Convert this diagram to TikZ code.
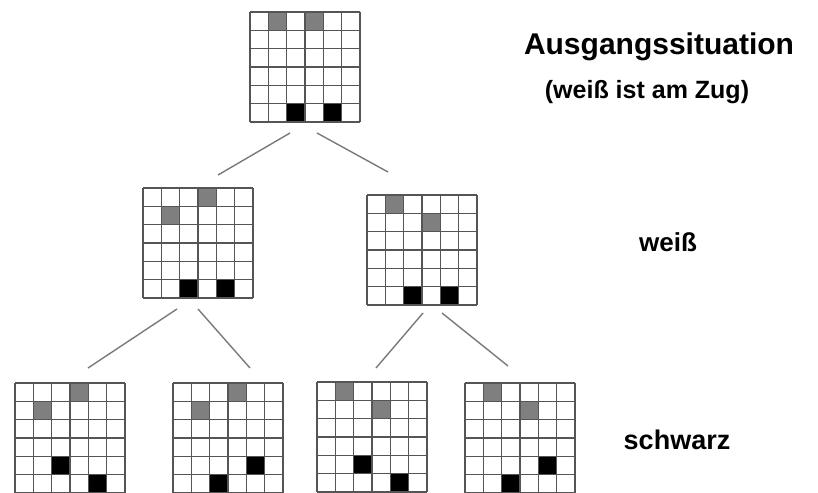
\documentclass[tikz,border=0pt]{standalone}
\usepackage{fontspec}
\setmainfont{Liberation Sans}
\usetikzlibrary{calc}
\definecolor{cellgray}{HTML}{7F7F7F}
\definecolor{gridcol}{HTML}{555555}
\definecolor{linecol}{HTML}{7A7A7A}
\tikzset{
  boardnode/.style={minimum width=110pt,minimum height=110pt,inner sep=0pt,outer sep=0pt},
  gridline/.style={draw=gridcol,line width=1.5pt},
  treeline/.style={draw=linecol,line width=1.4pt},
  label/.style={font=\bfseries,inner sep=0pt}
}
\newcommand\drawboard[5]{%
  \node[boardnode] (#1) at ({#2+55},{#3+55}) {};
  \foreach \r/\c in {#4} {\fill[cellgray] ($(#1.north west)+(\c*18.333,\r*18.333)$) rectangle +(18.333,18.333);}
  \foreach \r/\c in {#5} {\fill[black] ($(#1.north west)+(\c*18.333,\r*18.333)$) rectangle +(18.333,18.333);}
  \foreach \i in {0,...,6} {
    \draw[gridline] ($(#1.north west)+(\i*18.333,0)$) -- ++(0,110);
    \draw[gridline] ($(#1.north west)+(0,\i*18.333)$) -- ++(110,0);
  }
}
\begin{document}
\begin{tikzpicture}[x=1pt,y=-1pt]
\useasboundingbox[fill=white] (0,0) rectangle (818,492);
\drawboard{top}{250}{12}{0/1,0/3}{5/2,5/4}
\drawboard{ml}{143}{188}{0/3,1/1}{5/2,5/4}
\drawboard{mr}{367}{195}{0/1,1/3}{5/2,5/4}
\drawboard{b1}{15}{383}{0/3,1/1}{4/2,5/4}
\drawboard{b2}{173}{383}{0/3,1/1}{4/4,5/2}
\drawboard{b3}{317}{382}{0/1,1/3}{4/2,5/4}
\drawboard{b4}{465}{383}{0/1,1/3}{4/4,5/2}
% connectors
\draw[treeline] ($(top.south)+(-15,11)$) -- ($(ml.north)+(20,-13)$);
\draw[treeline] ($(top.south)+(12,11)$) -- ($(mr.north)+(-34,-23)$);
\draw[treeline] ($(ml.south)+(-21,11)$) -- ($(b1.north)+(18,-15)$);
\draw[treeline] ($(ml.south)+(0,11)$) -- ($(b2.north)+(22,-15)$);
\draw[treeline] ($(mr.south)+(1,8)$) -- ($(b3.north)+(4,-14)$);
\draw[treeline] ($(mr.south)+(20,8)$) -- ($(b4.north)+(-12,-17)$);
% labels
\node[label,font=\fontsize{30}{36}\selectfont\bfseries] (t1) at (659,47) {Ausgangssituation};
\node[label,font=\fontsize{25}{30}\selectfont\bfseries] (t2) at (647,92) {(weiß ist am Zug)};
\node[label,font=\fontsize{26}{31}\selectfont\bfseries] (t3) at (668,242) {weiß};
\node[label,font=\fontsize{27}{32}\selectfont\bfseries] (t4) at (677,440) {schwarz};
\end{tikzpicture}
\end{document}
